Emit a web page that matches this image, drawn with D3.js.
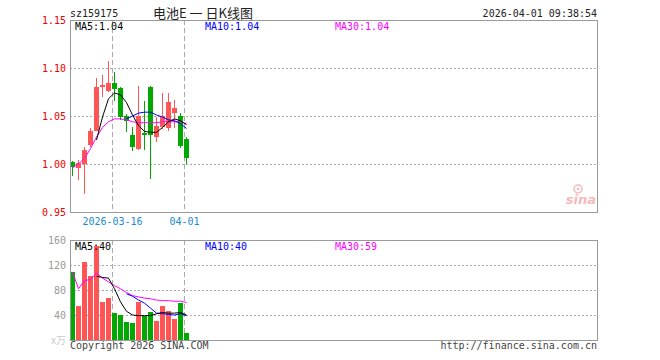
<!DOCTYPE html>
<html>
<head>
<meta charset="utf-8">
<script src="https://cdn.jsdelivr.net/npm/d3@7"></script>
<style>
  body { margin: 0; background: #fff; }
  svg { display: block; }
  text { font-family: "DejaVu Sans Mono", "Liberation Mono", monospace; }
</style>
</head>
<body>
<svg id="chart"></svg>
<script>
// trading days shown (20 of them), K-line data
var dates = ["2026-03-05","2026-03-06","2026-03-09","2026-03-10","2026-03-11","2026-03-12","2026-03-13",
  "2026-03-16","2026-03-17","2026-03-18","2026-03-19","2026-03-20","2026-03-23","2026-03-24",
  "2026-03-25","2026-03-26","2026-03-27","2026-03-30","2026-03-31","2026-04-01"];
var open  = [1.002, 0.996, 1.000, 1.020, 1.034, 1.080, 1.076, 1.084, 1.079, 1.050, 1.030, 1.016, 1.032, 1.080, 1.028, 1.039, 1.037, 1.053, 1.050, 1.026];
var close = [0.997, 1.001, 1.015, 1.034, 1.080, 1.082, 1.084, 1.078, 1.049, 1.045, 1.018, 1.050, 1.030, 1.030, 1.040, 1.050, 1.065, 1.058, 1.019, 1.006];
var high  = [1.003, 1.004, 1.018, 1.037, 1.090, 1.093, 1.107, 1.096, 1.080, 1.052, 1.039, 1.081, 1.066, 1.081, 1.049, 1.074, 1.074, 1.067, 1.053, 1.028];
var low   = [0.988, 0.983, 0.969, 1.018, 1.034, 1.070, 1.075, 1.066, 1.046, 1.033, 1.014, 1.015, 1.015, 0.984, 1.023, 1.036, 1.034, 1.037, 1.017, 1.000];
var ma5   = [null, null, null, null, 1.025, 1.049, 1.068, 1.074, 1.072, 1.064, 1.051, 1.040, 1.034, 1.033, 1.033, 1.038, 1.044, 1.047, 1.045, 1.041];
var ma10  = [null, null, null, null, null, null, null, null, null, 1.047, 1.050, 1.053, 1.054, 1.054, 1.051, 1.049, 1.046, 1.045, 1.042, 1.037];
var ma30  = [0.996, 1.000, 1.006, 1.016, 1.028, 1.038, 1.044, 1.047, 1.047, 1.046, 1.044, 1.043, 1.043, 1.043, 1.043, 1.044, 1.044, 1.044, 1.044, 1.042];

// volume (x万)
var volume = [109, 54, 125, 103, 150, 61, 68, 44, 40, 29, 27, 61, 39, 45, 31, 54, 47, 33, 60, 11];
var volMa5  = [null, null, null, null, 102, 100, 99, 82, 61, 46, 40, 39, 39, 39, 42, 44, 43, 43, 44, 40];
var volMa10 = [null, null, null, null, null, null, null, null, null, 74, 70, 64, 59, 51, 43, 42, 41, 40, 42, 39];
var volMa30 = [109, 82, 95, 97, 107, 99, 93, 87, 82, 76, 71, 69, 67, 66, 64, 63, 63, 62, 62, 60];

var priceTicks = [1.15, 1.10, 1.05, 1.00, 0.95];
var priceGrid = [1.10, 1.05, 1.00];
var volTicks = [160, 120, 80, 40];
var volGrid = [120, 80, 40];
var dateMarks = [{i: 7, label: "2026-03-16"}, {i: 19, label: "04-01"}];

var W = 660, H = 360;
var left = 70, right = 597;
var pTop = 20, pBot = 212, vTop = 240, vBot = 340;
var RED = "#ff5555", GREEN = "#00a800";

var svg = d3.select("#chart").attr("width", W).attr("height", H);

// 88 day slots across the box, 6px each
var x = d3.scaleLinear().domain([0, 88]).range([69.5, 597.5]);
var yP = d3.scaleLinear().domain([0.95, 1.15]).range([pBot, pTop]);
var yV = d3.scaleLinear().domain([0, 160]).range([vBot, vTop]);

function cx(i) { return x(i) + 3; }

// header
svg.append("text").attr("x", 70).attr("y", 17).attr("font-size", 10).attr("fill", "#222").text("sz159175");
svg.append("text").attr("x", 203).attr("y", 18).attr("text-anchor", "middle")
  .style("font-family", "'Noto Sans CJK SC', sans-serif").attr("font-size", 13).attr("fill", "#222")
  .text("电池E 一 日K线图");
svg.append("text").attr("x", 597).attr("y", 17).attr("text-anchor", "end").attr("font-size", 10).attr("fill", "#222")
  .text("2026-04-01 09:38:54");

// grid lines
var grid = svg.append("g").attr("shape-rendering", "crispEdges");
grid.selectAll(".pg").data(priceGrid).enter().append("line")
  .attr("x1", left).attr("x2", right)
  .attr("y1", function(d) { return Math.round(yP(d)) + 0.5; })
  .attr("y2", function(d) { return Math.round(yP(d)) + 0.5; })
  .attr("stroke", "#aaa").attr("stroke-dasharray", "2,2");
grid.selectAll(".vg").data(volGrid).enter().append("line")
  .attr("x1", left).attr("x2", right)
  .attr("y1", function(d) { return Math.round(yV(d)) + 0.5; })
  .attr("y2", function(d) { return Math.round(yV(d)) + 0.5; })
  .attr("stroke", "#aaa").attr("stroke-dasharray", "2,2");
dateMarks.forEach(function(m) {
  var xx = Math.round(x(m.i)) + 0.5;
  grid.append("line").attr("x1", xx).attr("x2", xx).attr("y1", pTop).attr("y2", pBot)
    .attr("stroke", "#aaa").attr("stroke-dasharray", "5,3");
  grid.append("line").attr("x1", xx).attr("x2", xx).attr("y1", vTop).attr("y2", vBot)
    .attr("stroke", "#aaa").attr("stroke-dasharray", "5,3");
  svg.append("text").attr("x", xx).attr("y", 225).attr("text-anchor", "middle")
    .attr("font-size", 10).attr("fill", "#1a8ad4").text(m.label);
});

// sina watermark
var logo = svg.append("g").attr("opacity", 0.55);
logo.append("circle").attr("cx", 578).attr("cy", 189).attr("r", 4).attr("fill", "none").attr("stroke", "#f08080").attr("stroke-width", 1.5);
logo.append("circle").attr("cx", 578).attr("cy", 189).attr("r", 1.3).attr("fill", "#f08080");
logo.append("text").attr("x", 596).attr("y", 204).attr("text-anchor", "end")
  .style("font-family", "'DejaVu Sans', sans-serif").attr("font-size", 13).attr("font-weight", "bold")
  .attr("font-style", "italic").attr("fill", "#f08080").text("sina");

// candles
var candles = svg.append("g").attr("shape-rendering", "crispEdges");
candles.selectAll(".wick").data(dates).enter().append("line")
  .attr("x1", function(d, i) { return cx(i); })
  .attr("x2", function(d, i) { return cx(i); })
  .attr("y1", function(d, i) { return yP(high[i]); })
  .attr("y2", function(d, i) { return yP(low[i]); })
  .attr("stroke", function(d, i) { return close[i] >= open[i] ? RED : GREEN; });
candles.selectAll(".body").data(dates).enter().append("rect")
  .attr("x", function(d, i) { return x(i) + 0.5; })
  .attr("width", 5)
  .attr("y", function(d, i) { return yP(Math.max(open[i], close[i])); })
  .attr("height", function(d, i) { return Math.max(1, Math.abs(yP(open[i]) - yP(close[i]))); })
  .attr("fill", function(d, i) { return close[i] >= open[i] ? RED : GREEN; });

// volume bars
svg.append("g").attr("shape-rendering", "crispEdges")
  .selectAll("rect").data(volume).enter().append("rect")
  .attr("x", function(d, i) { return x(i) + 0.5; })
  .attr("width", 5)
  .attr("y", function(d) { return yV(d); })
  .attr("height", function(d) { return vBot - yV(d); })
  .attr("fill", function(d, i) { return close[i] >= open[i] ? RED : GREEN; });

// moving average lines
function maLine(vals, yScale, color) {
  var line = d3.line()
    .defined(function(d) { return d != null; })
    .x(function(d, i) { return cx(i); })
    .y(function(d) { return yScale(d); });
  svg.append("path").datum(vals).attr("d", line)
    .attr("fill", "none").attr("stroke", color).attr("stroke-width", 1);
}
maLine(ma30, yP, "#ff00ff");
maLine(ma10, yP, "#0000ff");
maLine(ma5, yP, "#000");
maLine(volMa30, yV, "#ff00ff");
maLine(volMa10, yV, "#0000ff");
maLine(volMa5, yV, "#000");

// boxes
var boxes = svg.append("g").attr("shape-rendering", "crispEdges");
boxes.append("rect").attr("x", left + 0.5).attr("y", pTop + 0.5).attr("width", right - left).attr("height", pBot - pTop)
  .attr("fill", "none").attr("stroke", "#999");
boxes.append("rect").attr("x", left + 0.5).attr("y", vTop + 0.5).attr("width", right - left).attr("height", vBot - vTop)
  .attr("fill", "none").attr("stroke", "#999");

// axes labels
var pAxis = svg.append("g").attr("transform", "translate(" + left + ",0)")
  .call(d3.axisLeft(yP).tickValues(priceTicks).tickFormat(d3.format(".2f")).tickSize(0).tickPadding(4));
pAxis.select(".domain").remove();
pAxis.selectAll("text").attr("fill", "#e00").attr("font-size", 10).style("font-family", "'DejaVu Sans Mono', monospace");

var vAxis = svg.append("g").attr("transform", "translate(" + left + ",0)")
  .call(d3.axisLeft(yV).tickValues(volTicks).tickSize(0).tickPadding(4));
vAxis.select(".domain").remove();
vAxis.selectAll("text").attr("fill", "#999").attr("font-size", 10).style("font-family", "'DejaVu Sans Mono', monospace");
svg.append("text").attr("x", 66).attr("y", 344).attr("text-anchor", "end").attr("font-size", 10).attr("fill", "#ccc")
  .style("font-family", "'Noto Sans CJK SC', sans-serif").text("x万");

// MA legends
function legend(items, y) {
  items.forEach(function(it) {
    svg.append("text").attr("x", it.x).attr("y", y).attr("font-size", 10).attr("fill", it.color).text(it.text);
  });
}
legend([
  {x: 75, color: "#000", text: "MA5:1.04"},
  {x: 205, color: "#0000ff", text: "MA10:1.04"},
  {x: 335, color: "#ff00ff", text: "MA30:1.04"}
], 30);
legend([
  {x: 75, color: "#000", text: "MA5:40"},
  {x: 205, color: "#0000ff", text: "MA10:40"},
  {x: 335, color: "#ff00ff", text: "MA30:59"}
], 250);

// footer
svg.append("text").attr("x", 70).attr("y", 349).attr("font-size", 10).attr("fill", "#444").text("Copyright 2026 SINA.COM");
svg.append("text").attr("x", 597).attr("y", 349).attr("text-anchor", "end").attr("font-size", 10).attr("fill", "#444")
  .text("http://finance.sina.com.cn");
</script>
</body>
</html>
